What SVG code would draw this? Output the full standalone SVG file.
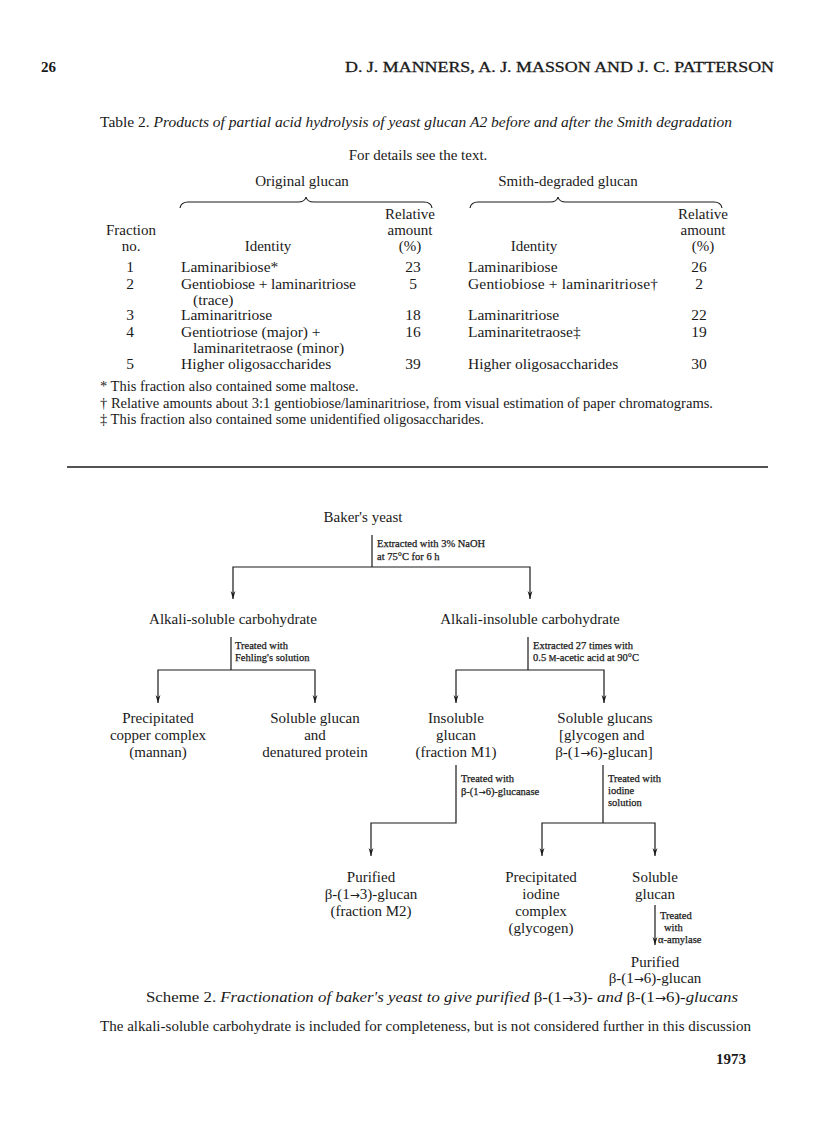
<svg xmlns="http://www.w3.org/2000/svg" width="816" height="1136" viewBox="0 0 816 1136">
<defs>
<style>
text{font-family:"Liberation Serif","Times New Roman",serif;fill:#1a1a1a;font-size:15px}
.c{text-anchor:middle}
.i{font-style:italic}
.s{font-size:10.5px;stroke:#1a1a1a;stroke-width:0.25}
.r{font-size:15.5px}
.f{font-size:14.5px}
.ar{font-family:"DejaVu Sans",sans-serif;font-size:0.8em}
.ln{stroke:#1a1a1a;stroke-width:1.2;fill:none}
</style>
<marker id="ah" viewBox="0 0 8 6" refX="8" refY="3" markerWidth="8" markerHeight="6" markerUnits="userSpaceOnUse" orient="auto-start-reverse">
<path d="M0,0.6 L8,3 L0,5.4 L2.5,3 Z" fill="#1a1a1a"/>
</marker>
</defs>
<rect width="816" height="1136" fill="#fff"/>

<g id="header">
<text x="41" y="72" font-size="16" font-weight="bold">26</text>
<text x="345" y="72" font-size="15.5" textLength="429" lengthAdjust="spacingAndGlyphs" stroke="#1a1a1a" stroke-width="0.3">D. J. MANNERS, A. J. MASSON AND J. C. PATTERSON</text>
</g>

<g id="table">
<text x="100" y="127" font-size="14.5" textLength="632" lengthAdjust="spacingAndGlyphs">Table 2. <tspan class="i">Products of partial acid hydrolysis of yeast glucan A2 before and after the Smith degradation</tspan></text>
<text x="418" y="160" class="c" font-size="14.5">For details see the text.</text>
<text x="302" y="186" class="c">Original glucan</text>
<text x="568" y="186" class="c">Smith-degraded glucan</text>
<path class="ln" d="M180,208 Q181,202 188,202 L298,202 Q305,202 306,197 Q307,202 314,202 L424,202 Q431,202 432,208"/>
<path class="ln" d="M470,208 Q471,202 478,202 L550,202 Q557,202 558,197 Q559,202 566,202 L714,202 Q721,202 722,208"/>
<text x="131" y="235" class="c">Fraction</text>
<text x="131" y="251" class="c">no.</text>
<text x="268" y="251" class="c">Identity</text>
<text x="410" y="219" class="c">Relative</text>
<text x="410" y="235" class="c">amount</text>
<text x="410" y="251" class="c">(%)</text>
<text x="534" y="251" class="c">Identity</text>
<text x="703" y="219" class="c">Relative</text>
<text x="703" y="235" class="c">amount</text>
<text x="703" y="251" class="c">(%)</text>

<text x="130" y="272" class="c r">1</text>
<text x="181" y="272" class="r">Laminaribiose*</text>
<text x="413" y="272" class="c r">23</text>
<text x="468" y="272" class="r">Laminaribiose</text>
<text x="699" y="272" class="c r">26</text>

<text x="130" y="289" class="c r">2</text>
<text x="181" y="289" class="r" textLength="175" lengthAdjust="spacing">Gentiobiose + laminaritriose</text>
<text x="413" y="289" class="c r">5</text>
<text x="468" y="289" class="r" textLength="190" lengthAdjust="spacing">Gentiobiose + laminaritriose†</text>
<text x="699" y="289" class="c r">2</text>
<text x="193" y="305" class="r">(trace)</text>

<text x="130" y="320" class="c r">3</text>
<text x="181" y="320" class="r">Laminaritriose</text>
<text x="413" y="320" class="c r">18</text>
<text x="468" y="320" class="r">Laminaritriose</text>
<text x="699" y="320" class="c r">22</text>

<text x="130" y="337" class="c r">4</text>
<text x="181" y="337" class="r">Gentiotriose (major) +</text>
<text x="413" y="337" class="c r">16</text>
<text x="468" y="337" class="r">Laminaritetraose‡</text>
<text x="699" y="337" class="c r">19</text>
<text x="193" y="353" class="r">laminaritetraose (minor)</text>

<text x="130" y="369" class="c r">5</text>
<text x="181" y="369" class="r">Higher oligosaccharides</text>
<text x="413" y="369" class="c r">39</text>
<text x="468" y="369" class="r">Higher oligosaccharides</text>
<text x="699" y="369" class="c r">30</text>

<text x="100" y="391" class="f">* This fraction also contained some maltose.</text>
<text x="100" y="408" class="f" textLength="613" lengthAdjust="spacingAndGlyphs">† Relative amounts about 3:1 gentiobiose/laminaritriose, from visual estimation of paper chromatograms.</text>
<text x="100" y="424" class="f">‡ This fraction also contained some unidentified oligosaccharides.</text>
</g>

<line x1="67" y1="467" x2="768" y2="467" stroke="#1a1a1a" stroke-width="1.6"/>

<g id="connectors">
<path class="ln" d="M372,535 L372,567"/>
<path class="ln" d="M233,599 L233,567 L530,567 L530,599" marker-start="url(#ah)" marker-end="url(#ah)"/>
<path class="ln" d="M231,637 L231,670"/>
<path class="ln" d="M158,703 L158,670 L315,670 L315,703" marker-start="url(#ah)" marker-end="url(#ah)"/>
<path class="ln" d="M528,637 L528,670"/>
<path class="ln" d="M456,703 L456,670 L604,670 L604,703" marker-start="url(#ah)" marker-end="url(#ah)"/>
<path class="ln" d="M456,765 L456,823 L371,823 L371,856" marker-end="url(#ah)"/>
<path class="ln" d="M603,765 L603,823"/>
<path class="ln" d="M542,856 L542,823 L655,823 L655,856" marker-start="url(#ah)" marker-end="url(#ah)"/>
<path class="ln" d="M655,905 L655,945" marker-end="url(#ah)"/>
<text x="377" y="547" class="s">Extracted with 3% NaOH</text>
<text x="377" y="560" class="s">at 75°C for 6 h</text>
<text x="235" y="649" class="s">Treated with</text>
<text x="235" y="661" class="s">Fehling's solution</text>
<text x="533" y="649" class="s">Extracted 27 times with</text>
<text x="533" y="661" class="s">0.5 <tspan font-size="8.5">M</tspan>-acetic acid at 90°C</text>
<text x="461" y="782" class="s">Treated with</text>
<text x="461" y="795" class="s">β-(1<tspan class="ar">→</tspan>6)-glucanase</text>
<text x="608" y="782" class="s">Treated with</text>
<text x="608" y="794" class="s">iodine</text>
<text x="608" y="806" class="s">solution</text>
<text x="660" y="919" class="s">Treated</text>
<text x="664" y="931" class="s">with</text>
<text x="658" y="943" class="s">α-amylase</text>
</g>

<g id="n-yeast"><text x="363" y="522" class="c">Baker's yeast</text></g>
<g id="n-alksol"><text x="233" y="624" class="c">Alkali-soluble carbohydrate</text></g>
<g id="n-alkinsol"><text x="530" y="624" class="c">Alkali-insoluble carbohydrate</text></g>
<g id="n-copper">
<text x="158" y="723" class="c">Precipitated</text>
<text x="158" y="740" class="c">copper complex</text>
<text x="158" y="757" class="c">(mannan)</text>
</g>
<g id="n-solprot">
<text x="315" y="723" class="c">Soluble glucan</text>
<text x="315" y="740" class="c">and</text>
<text x="315" y="757" class="c">denatured protein</text>
</g>
<g id="n-insol">
<text x="456" y="723" class="c">Insoluble</text>
<text x="456" y="740" class="c">glucan</text>
<text x="456" y="757" class="c">(fraction M1)</text>
</g>
<g id="n-solglucans">
<text x="605" y="723" class="c">Soluble glucans</text>
<text x="559" y="740">[glycogen and</text>
<text x="604" y="757" class="c">β-(1<tspan class="ar">→</tspan>6)-glucan]</text>
</g>
<g id="n-m2">
<text x="371" y="882" class="c">Purified</text>
<text x="371" y="899" class="c">β-(1<tspan class="ar">→</tspan>3)-glucan</text>
<text x="371" y="916" class="c">(fraction M2)</text>
</g>
<g id="n-glycogen">
<text x="541" y="882" class="c">Precipitated</text>
<text x="541" y="899" class="c">iodine</text>
<text x="541" y="916" class="c">complex</text>
<text x="541" y="933" class="c">(glycogen)</text>
</g>
<g id="n-solglucan">
<text x="655" y="882" class="c">Soluble</text>
<text x="655" y="899" class="c">glucan</text>
</g>
<g id="n-b16">
<text x="655" y="967" class="c">Purified</text>
<text x="655" y="983" class="c">β-(1<tspan class="ar">→</tspan>6)-glucan</text>
</g>

<g id="caption">
<text x="146" y="1002" textLength="592" lengthAdjust="spacingAndGlyphs">Scheme 2. <tspan class="i">Fractionation of baker's yeast to give purified </tspan>β-(1<tspan class="ar">→</tspan>3)-<tspan class="i"> and </tspan>β-(1<tspan class="ar">→</tspan>6)-<tspan class="i">glucans</tspan></text>
<text x="100" y="1031" font-size="16" textLength="651" lengthAdjust="spacingAndGlyphs">The alkali-soluble carbohydrate is included for completeness, but is not considered further in this discussion</text>
<text x="716" y="1064" font-size="16" font-weight="bold">1973</text>
</g>
</svg>
